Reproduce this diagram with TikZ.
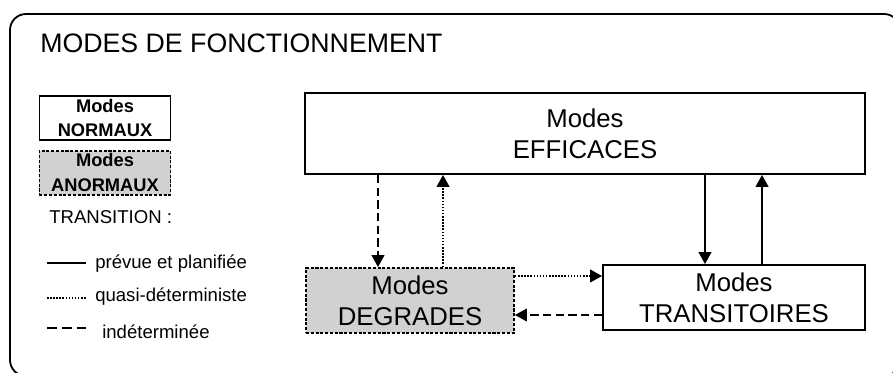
\documentclass[tikz,border=0pt]{standalone}
\usepackage{fontspec}
\setmainfont{Liberation Sans}
\usetikzlibrary{arrows.meta,positioning}

\begin{document}
\begin{tikzpicture}[
  x=0.025cm, y=-0.025cm,
  mode/.style={draw, line width=1.3pt, align=center, inner sep=2pt,
               font=\fontsize{18.3}{22}\selectfont},
  anormal/.style={fill=black!18, dash pattern=on 2.2pt off 1.2pt},
  legbox/.style={draw, line width=1.2pt, align=center, inner sep=1pt,
                 minimum width=3.28cm, minimum height=1.1cm,
                 font=\bfseries\fontsize{13}{17.7}\selectfont},
  legtxt/.style={anchor=base west, inner sep=0pt,
                 font=\fontsize{13.2}{16}\selectfont},
  tip/.style={-{Triangle[length=8.5pt,width=9pt]}, line width=1.3pt},
  plan/.style={line width=1.3pt},
  quasi/.style={line width=1.3pt, dash pattern=on 1.1pt off 1.1pt},
  indet/.style={line width=1.3pt, dash pattern=on 6pt off 3pt}
]
\useasboundingbox (0,0) rectangle (893,373);
\begin{scope}
  \clip (0,0) rectangle (893,373);
  \draw[line width=1.3pt, rounded corners=0.4cm] (10,14) rectangle (900,376);
\end{scope}

\node[anchor=base west, inner sep=0pt, font=\fontsize{19}{22}\selectfont]
  (titre) at (40,53) {MODES DE FONCTIONNEMENT};

% legende
\node[legbox] (norm) at (105,118) {Modes\\NORMAUX};
\node[legbox, anormal, below=0.225cm of norm] (anorm) {Modes\\ANORMAUX};
\node[legtxt] (trans) at (49,224) {TRANSITION :};
\node[legtxt] (lplan) at (95,268) {prévue et planifiée};
\node[legtxt] (lquasi) at (95,302) {quasi-déterministe};
\node[legtxt] (lindet) at (102,338) {indéterminée};
\coordinate (c1) at (47,263);
\coordinate (c2) at (47,298);
\coordinate (c3) at (47,328);
\draw[plan] (c1) -- ++(39,0);
\draw[quasi] (c2) -- ++(39,0);
\draw[indet, dash pattern=on 7pt off 3.5pt] (c3) -- ++(41,0);

% modes
\node[mode, minimum width=14cm, minimum height=2.025cm]
  (eff) at (585,133.5) {Modes\\EFFICACES};
\node[mode, anormal, minimum width=5.2cm, minimum height=1.625cm]
  (deg) at (410,300.5) {Modes\\DEGRADES};
\node[mode, minimum width=6.55cm, minimum height=1.625cm]
  (tra) at (734,297.5) {Modes\\TRANSITOIRES};

% transitions
\draw[tip, indet] ([xshift=-0.8cm]deg.north |- eff.south) -- ([xshift=-0.8cm]deg.north);
\draw[tip, quasi] ([xshift=0.825cm]deg.north) -- ([xshift=0.825cm]deg.north |- eff.south);
\draw[tip, plan] ([xshift=-0.725cm]tra.north |- eff.south) -- ([xshift=-0.725cm]tra.north);
\draw[tip, plan] ([xshift=0.7cm]tra.north) -- ([xshift=0.7cm]tra.north |- eff.south);
\draw[tip, quasi] ([yshift=0.6125cm]deg.east) -- ([yshift=0.6125cm]deg.east -| tra.west);
\draw[tip, indet] ([yshift=-0.3625cm]deg.east -| tra.west) -- ([yshift=-0.3625cm]deg.east);
\end{tikzpicture}
\end{document}
